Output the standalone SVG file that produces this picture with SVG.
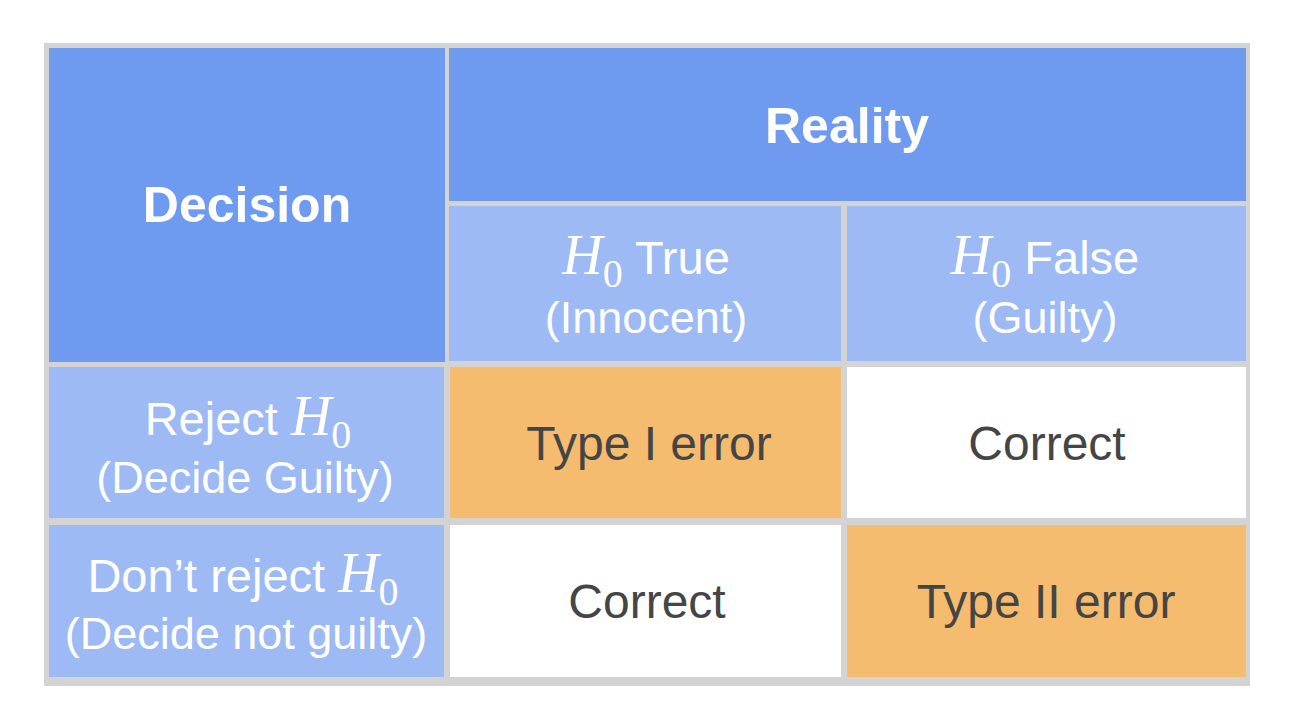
<svg xmlns="http://www.w3.org/2000/svg" width="1298" height="720" viewBox="0 0 1298 720">
<style>
.dark{fill:#6E9AF0}
.light{fill:#9DBAF5}
.orange{fill:#F5BB6E}
.white{fill:#FFFFFF}
text{font-family:"Liberation Sans",Arial,sans-serif;text-anchor:middle}
.hb{font-size:50px;font-weight:bold;fill:#FFFFFF}
.h1{font-size:47px;fill:#FFFFFF}
.h2{font-size:45px;fill:#FFFFFF}
.body{font-size:48px;fill:#454545}
.mi{font-family:"Liberation Serif","Times New Roman",serif;font-style:italic;font-size:56px}
.sub{font-family:"Liberation Serif","Times New Roman",serif;font-size:40px}
</style>
<rect x="0" y="0" width="1298" height="720" fill="#FFFFFF"/>
<rect id="grid" x="44" y="43" width="1206" height="643" fill="#D3D3D3"/>
<g id="decision">
<rect class="dark" x="49" y="48" width="396" height="314"/>
<text class="hb" x="247" y="222">Decision</text>
</g>
<g id="reality">
<rect class="dark" x="449" y="48" width="797" height="153"/>
<text class="hb" x="847" y="143">Reality</text>
</g>
<g id="h0-true">
<rect class="light" x="449" y="206" width="392" height="155"/>
<text class="h1" x="646" y="274" xml:space="preserve"><tspan class="mi">H</tspan><tspan class="sub" dy="13">0</tspan><tspan dy="-13"> True</tspan></text>
<text class="h2" x="646" y="333">(Innocent)</text>
</g>
<g id="h0-false">
<rect class="light" x="847" y="206" width="399" height="155"/>
<text class="h1" x="1045" y="274" xml:space="preserve"><tspan class="mi">H</tspan><tspan class="sub" dy="13">0</tspan><tspan dy="-13"> False</tspan></text>
<text class="h2" x="1045" y="333">(Guilty)</text>
</g>
<g id="reject">
<rect class="light" x="49" y="367" width="395" height="151"/>
<text class="h1" x="248" y="435" xml:space="preserve"><tspan>Reject </tspan><tspan class="mi">H</tspan><tspan class="sub" dy="13">0</tspan></text>
<text class="h2" x="245" y="493">(Decide Guilty)</text>
</g>
<g id="dont-reject">
<rect class="light" x="49" y="525" width="395" height="152"/>
<text class="h1" x="243" y="592" xml:space="preserve"><tspan>Don’t reject </tspan><tspan class="mi">H</tspan><tspan class="sub" dy="13">0</tspan></text>
<text class="h2" x="246" y="649">(Decide not guilty)</text>
</g>
<g id="type1">
<rect class="orange" x="450" y="367" width="391" height="151"/>
<text class="body" x="649" y="460">Type I error</text>
</g>
<g id="correct-1">
<rect class="white" x="847" y="367" width="399" height="151"/>
<text class="body" x="1047" y="460">Correct</text>
</g>
<g id="correct-2">
<rect class="white" x="450" y="525" width="391" height="152"/>
<text class="body" x="647" y="618">Correct</text>
</g>
<g id="type2">
<rect class="orange" x="847" y="525" width="399" height="152"/>
<text class="body" x="1046" y="618">Type II error</text>
</g>
</svg>
